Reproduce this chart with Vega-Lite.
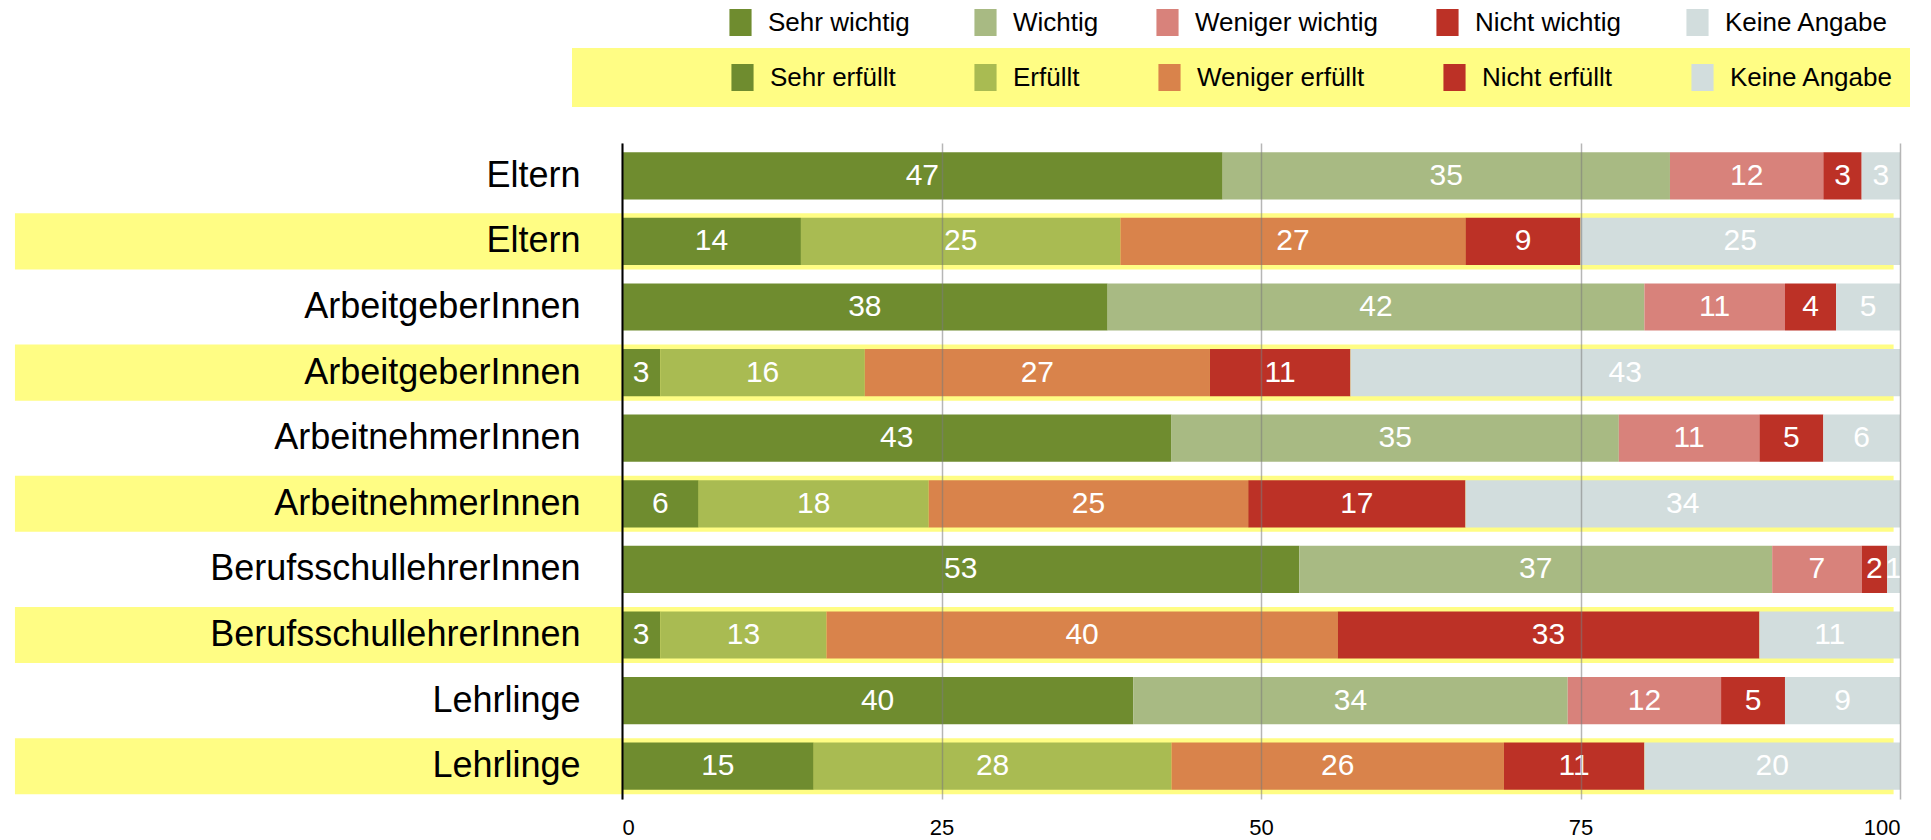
{
  "$schema": "https://vega.github.io/schema/vega-lite/v6.json",
  "width": 1278,
  "height": 656,
  "autosize": {"type": "none"},
  "padding": {"left": 622, "top": 143, "right": 31, "bottom": 41},
  "background": "white",
  "config": {
    "view": {"stroke": null},
    "font": "Liberation Sans",
    "axisX": {"domain": false, "ticks": false, "tickSize": 0, "grid": true, "gridColor": "#7a7a7a", "gridOpacity": 0.55, "gridWidth": 1.5, "labelFontSize": 22, "labelColor": "black", "labelPadding": 18},
    "axisY": {"domain": true, "domainColor": "black", "domainWidth": 2, "ticks": false, "tickSize": 0, "grid": false, "labelFontSize": 36, "labelColor": "black", "labelPadding": 42, "labelLimit": 600, "labelOverlap": false}
  },
  "data": {
    "values": [
      {"zeile": "Eltern|wichtig", "frage": "wichtig", "antwort": "Sehr  wichtig", "rang": 1, "wert": 47},
      {"zeile": "Eltern|wichtig", "frage": "wichtig", "antwort": "Wichtig", "rang": 2, "wert": 35},
      {"zeile": "Eltern|wichtig", "frage": "wichtig", "antwort": "Weniger wichtig", "rang": 3, "wert": 12},
      {"zeile": "Eltern|wichtig", "frage": "wichtig", "antwort": "Nicht  wichtig", "rang": 4, "wert": 3},
      {"zeile": "Eltern|wichtig", "frage": "wichtig", "antwort": "Keine Angabe", "rang": 5, "wert": 3},
      {"zeile": "Eltern|erfüllt", "frage": "erfüllt", "antwort": "Sehr erfüllt", "rang": 1, "wert": 14},
      {"zeile": "Eltern|erfüllt", "frage": "erfüllt", "antwort": "Erfüllt", "rang": 2, "wert": 25},
      {"zeile": "Eltern|erfüllt", "frage": "erfüllt", "antwort": "Weniger erfüllt", "rang": 3, "wert": 27},
      {"zeile": "Eltern|erfüllt", "frage": "erfüllt", "antwort": "Nicht erfüllt", "rang": 4, "wert": 9},
      {"zeile": "Eltern|erfüllt", "frage": "erfüllt", "antwort": "Keine Angabe", "rang": 5, "wert": 25},
      {"zeile": "ArbeitgeberInnen|wichtig", "frage": "wichtig", "antwort": "Sehr  wichtig", "rang": 1, "wert": 38},
      {"zeile": "ArbeitgeberInnen|wichtig", "frage": "wichtig", "antwort": "Wichtig", "rang": 2, "wert": 42},
      {"zeile": "ArbeitgeberInnen|wichtig", "frage": "wichtig", "antwort": "Weniger wichtig", "rang": 3, "wert": 11},
      {"zeile": "ArbeitgeberInnen|wichtig", "frage": "wichtig", "antwort": "Nicht  wichtig", "rang": 4, "wert": 4},
      {"zeile": "ArbeitgeberInnen|wichtig", "frage": "wichtig", "antwort": "Keine Angabe", "rang": 5, "wert": 5},
      {"zeile": "ArbeitgeberInnen|erfüllt", "frage": "erfüllt", "antwort": "Sehr erfüllt", "rang": 1, "wert": 3},
      {"zeile": "ArbeitgeberInnen|erfüllt", "frage": "erfüllt", "antwort": "Erfüllt", "rang": 2, "wert": 16},
      {"zeile": "ArbeitgeberInnen|erfüllt", "frage": "erfüllt", "antwort": "Weniger erfüllt", "rang": 3, "wert": 27},
      {"zeile": "ArbeitgeberInnen|erfüllt", "frage": "erfüllt", "antwort": "Nicht erfüllt", "rang": 4, "wert": 11},
      {"zeile": "ArbeitgeberInnen|erfüllt", "frage": "erfüllt", "antwort": "Keine Angabe", "rang": 5, "wert": 43},
      {"zeile": "ArbeitnehmerInnen|wichtig", "frage": "wichtig", "antwort": "Sehr  wichtig", "rang": 1, "wert": 43},
      {"zeile": "ArbeitnehmerInnen|wichtig", "frage": "wichtig", "antwort": "Wichtig", "rang": 2, "wert": 35},
      {"zeile": "ArbeitnehmerInnen|wichtig", "frage": "wichtig", "antwort": "Weniger wichtig", "rang": 3, "wert": 11},
      {"zeile": "ArbeitnehmerInnen|wichtig", "frage": "wichtig", "antwort": "Nicht  wichtig", "rang": 4, "wert": 5},
      {"zeile": "ArbeitnehmerInnen|wichtig", "frage": "wichtig", "antwort": "Keine Angabe", "rang": 5, "wert": 6},
      {"zeile": "ArbeitnehmerInnen|erfüllt", "frage": "erfüllt", "antwort": "Sehr erfüllt", "rang": 1, "wert": 6},
      {"zeile": "ArbeitnehmerInnen|erfüllt", "frage": "erfüllt", "antwort": "Erfüllt", "rang": 2, "wert": 18},
      {"zeile": "ArbeitnehmerInnen|erfüllt", "frage": "erfüllt", "antwort": "Weniger erfüllt", "rang": 3, "wert": 25},
      {"zeile": "ArbeitnehmerInnen|erfüllt", "frage": "erfüllt", "antwort": "Nicht erfüllt", "rang": 4, "wert": 17},
      {"zeile": "ArbeitnehmerInnen|erfüllt", "frage": "erfüllt", "antwort": "Keine Angabe", "rang": 5, "wert": 34},
      {"zeile": "BerufsschullehrerInnen|wichtig", "frage": "wichtig", "antwort": "Sehr  wichtig", "rang": 1, "wert": 53},
      {"zeile": "BerufsschullehrerInnen|wichtig", "frage": "wichtig", "antwort": "Wichtig", "rang": 2, "wert": 37},
      {"zeile": "BerufsschullehrerInnen|wichtig", "frage": "wichtig", "antwort": "Weniger wichtig", "rang": 3, "wert": 7},
      {"zeile": "BerufsschullehrerInnen|wichtig", "frage": "wichtig", "antwort": "Nicht  wichtig", "rang": 4, "wert": 2},
      {"zeile": "BerufsschullehrerInnen|wichtig", "frage": "wichtig", "antwort": "Keine Angabe", "rang": 5, "wert": 1},
      {"zeile": "BerufsschullehrerInnen|erfüllt", "frage": "erfüllt", "antwort": "Sehr erfüllt", "rang": 1, "wert": 3},
      {"zeile": "BerufsschullehrerInnen|erfüllt", "frage": "erfüllt", "antwort": "Erfüllt", "rang": 2, "wert": 13},
      {"zeile": "BerufsschullehrerInnen|erfüllt", "frage": "erfüllt", "antwort": "Weniger erfüllt", "rang": 3, "wert": 40},
      {"zeile": "BerufsschullehrerInnen|erfüllt", "frage": "erfüllt", "antwort": "Nicht erfüllt", "rang": 4, "wert": 33},
      {"zeile": "BerufsschullehrerInnen|erfüllt", "frage": "erfüllt", "antwort": "Keine Angabe", "rang": 5, "wert": 11},
      {"zeile": "Lehrlinge|wichtig", "frage": "wichtig", "antwort": "Sehr  wichtig", "rang": 1, "wert": 40},
      {"zeile": "Lehrlinge|wichtig", "frage": "wichtig", "antwort": "Wichtig", "rang": 2, "wert": 34},
      {"zeile": "Lehrlinge|wichtig", "frage": "wichtig", "antwort": "Weniger wichtig", "rang": 3, "wert": 12},
      {"zeile": "Lehrlinge|wichtig", "frage": "wichtig", "antwort": "Nicht  wichtig", "rang": 4, "wert": 5},
      {"zeile": "Lehrlinge|wichtig", "frage": "wichtig", "antwort": "Keine Angabe", "rang": 5, "wert": 9},
      {"zeile": "Lehrlinge|erfüllt", "frage": "erfüllt", "antwort": "Sehr erfüllt", "rang": 1, "wert": 15},
      {"zeile": "Lehrlinge|erfüllt", "frage": "erfüllt", "antwort": "Erfüllt", "rang": 2, "wert": 28},
      {"zeile": "Lehrlinge|erfüllt", "frage": "erfüllt", "antwort": "Weniger erfüllt", "rang": 3, "wert": 26},
      {"zeile": "Lehrlinge|erfüllt", "frage": "erfüllt", "antwort": "Nicht erfüllt", "rang": 4, "wert": 11},
      {"zeile": "Lehrlinge|erfüllt", "frage": "erfüllt", "antwort": "Keine Angabe", "rang": 5, "wert": 20}
    ]
  },
  "encoding": {
    "y": {
      "field": "zeile",
      "type": "nominal",
      "title": null,
      "scale": {
        "domain": ["Eltern|wichtig", "Eltern|erfüllt", "ArbeitgeberInnen|wichtig", "ArbeitgeberInnen|erfüllt", "ArbeitnehmerInnen|wichtig", "ArbeitnehmerInnen|erfüllt", "BerufsschullehrerInnen|wichtig", "BerufsschullehrerInnen|erfüllt", "Lehrlinge|wichtig", "Lehrlinge|erfüllt"],
        "paddingInner": 0,
        "paddingOuter": 0
      },
      "axis": {"labelExpr": "split(datum.label, '|')[0]", "zindex": 2, "labelOverlap": false}
    }
  },
  "layer": [
    {
      "transform": [{"filter": "datum.frage == 'erfüllt' && datum.rang == 1"}],
      "mark": {"type": "bar", "height": {"band": 0.855}, "color": "#FFFD84"},
      "encoding": {
        "x": {"datum": -47.5, "type": "quantitative", "scale": {"domain": [0, 100], "nice": false}, "axis": {"title": null, "values": [0, 25, 50, 75, 100], "zindex": 2}},
        "x2": {"datum": 99.5}
      }
    },
    {
      "transform": [{"filter": "datum.frage == 'wichtig'"}],
      "mark": {"type": "bar", "height": {"band": 0.72}},
      "encoding": {
        "x": {"field": "wert", "type": "quantitative", "stack": "zero", "scale": {"domain": [0, 100], "nice": false}, "axis": {"title": null, "values": [0, 25, 50, 75, 100], "zindex": 2}},
        "order": {"field": "rang", "type": "quantitative"},
        "color": {
          "field": "antwort",
          "type": "nominal",
          "scale": {
            "domain": ["Sehr  wichtig", "Wichtig", "Weniger wichtig", "Nicht  wichtig", "Keine Angabe"],
            "range": ["#6F8C2F", "#A8BA83", "#D8827B", "#BC3126", "#D2DDDD"]
          },
          "legend": {
            "title": null,
            "orient": "none",
            "direction": "horizontal",
            "columns": 5,
            "legendX": 105,
            "legendY": -134,
            "columnPadding": 55,
            "labelOffset": 14,
            "labelFontSize": 26,
            "labelColor": "black",
            "labelLimit": 400,
            "symbolType": "M-0.82,-1H0.82V1H-0.82Z",
            "symbolSize": 729,
            "symbolStrokeWidth": 0,
            "symbolOpacity": 1,
            "padding": 0
          }
        }
      }
    },
    {
      "transform": [{"filter": "datum.frage == 'erfüllt'"}],
      "mark": {"type": "bar", "height": {"band": 0.72}},
      "encoding": {
        "x": {"field": "wert", "type": "quantitative", "stack": "zero", "scale": {"domain": [0, 100], "nice": false}, "axis": {"title": null, "values": [0, 25, 50, 75, 100], "zindex": 2}},
        "order": {"field": "rang", "type": "quantitative"},
        "color": {
          "field": "antwort",
          "type": "nominal",
          "scale": {
            "domain": ["Sehr erfüllt", "Erfüllt", "Weniger erfüllt", "Nicht erfüllt", "Keine Angabe"],
            "range": ["#6F8C2F", "#A9BB52", "#D9834B", "#BC3126", "#D2DDDD"]
          },
          "legend": {
            "title": " ",
            "titleOrient": "left",
            "titleFontSize": 10,
            "titlePadding": 141,
            "orient": "none",
            "direction": "horizontal",
            "columns": 5,
            "legendX": -50,
            "legendY": -95,
            "fillColor": "#FFFD84",
            "padding": 16,
            "columnPadding": 76,
            "labelOffset": 14,
            "labelFontSize": 26,
            "labelColor": "black",
            "labelLimit": 400,
            "symbolType": "M-0.82,-1H0.82V1H-0.82Z",
            "symbolSize": 729,
            "symbolStrokeWidth": 0,
            "symbolOpacity": 1
          }
        }
      }
    },
    {
      "mark": {"type": "text", "color": "white", "fontSize": 30, "align": "center", "baseline": "middle"},
      "encoding": {
        "x": {"field": "wert", "type": "quantitative", "stack": "zero", "bandPosition": 0.5, "scale": {"domain": [0, 100], "nice": false}, "axis": {"title": null, "values": [0, 25, 50, 75, 100], "zindex": 2}},
        "detail": {"field": "antwort"},
        "order": {"field": "rang", "type": "quantitative"},
        "text": {"field": "wert", "type": "quantitative"}
      }
    }
  ],
  "resolve": {"scale": {"color": "independent"}}
}
